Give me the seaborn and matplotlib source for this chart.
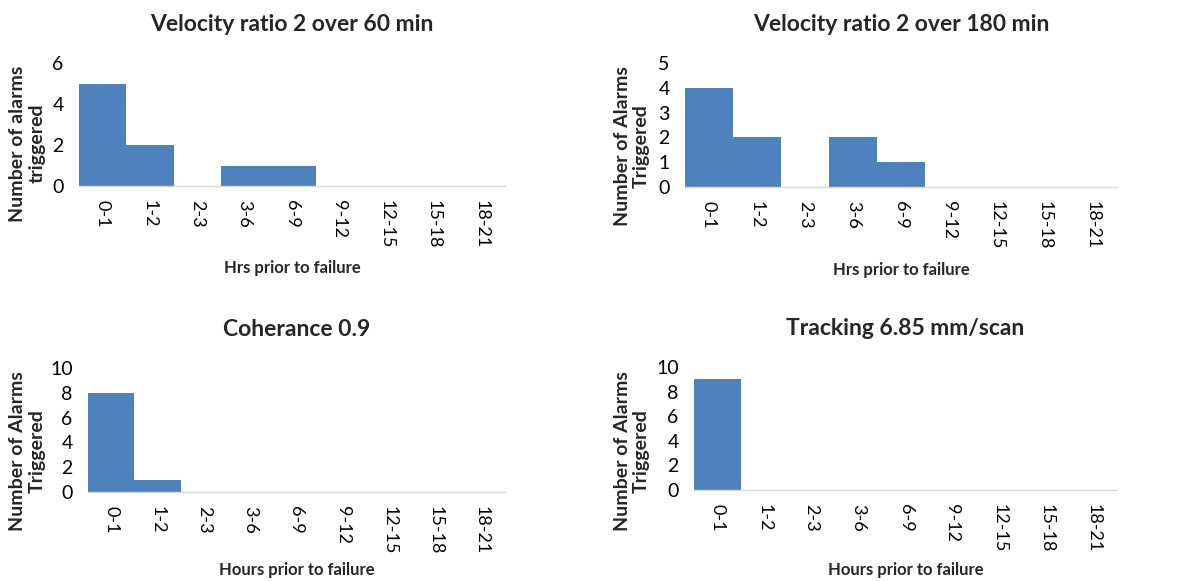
import matplotlib
matplotlib.use("Agg")
import matplotlib.pyplot as plt
import seaborn as sns
import pandas as pd

# Time bins (hours before failure) shared by all four panels
bins = ["0-1", "1-2", "2-3", "3-6", "6-9", "9-12", "12-15", "15-18", "18-21"]

# Alarm counts per bin
velocity_60 = [5, 2, 0, 1, 1, 0, 0, 0, 0]
velocity_180 = [4, 2, 0, 2, 1, 0, 0, 0, 0]
coherance = [8, 1, 0, 0, 0, 0, 0, 0, 0]
tracking = [9, 0, 0, 0, 0, 0, 0, 0, 0]

sns.set_theme(style="white")
plt.rcParams["font.family"] = ["Lato", "DejaVu Sans"]

BAR = "#4F81BD"
BASE = "#D9D9D9"

W, H = 1178, 581
fig = plt.figure(figsize=(W / 100, H / 100), dpi=100)


def px_axes(left, top, right, bottom):
    return fig.add_axes([left / W, 1 - bottom / H, (right - left) / W, (bottom - top) / H])


panels = [
    dict(box=(79, 63, 505, 186), vals=velocity_60, ymax=6, step=2,
         title="Velocity ratio 2 over 60 min",
         ylabel="Number of alarms\ntriggered", xlabel="Hrs prior to failure",
         ylab=(-0.122, 0.345), xlab=-0.667),
    dict(box=(685, 63, 1117, 187), vals=velocity_180, ymax=5, step=1,
         title="Velocity ratio 2 over 180 min",
         ylabel="Number of Alarms\nTriggered", xlabel="Hrs prior to failure",
         ylab=(-0.123, 0.33), xlab=-0.67),
    dict(box=(88, 368, 505, 492), vals=coherance, ymax=10, step=2,
         title="Coherance 0.9",
         ylabel="Number of Alarms\nTriggered", xlabel="Hours prior to failure",
         ylab=(-0.146, 0.33), xlab=-0.63),
    dict(box=(694, 367, 1117, 490), vals=tracking, ymax=10, step=2,
         title="Tracking 6.85 mm/scan",
         ylabel="Number of Alarms\nTriggered", xlabel="Hours prior to failure",
         ylab=(-0.147, 0.317), xlab=-0.65),
]

for p in panels:
    ax = px_axes(*p["box"])
    df = pd.DataFrame({"bin": bins, "count": p["vals"]})
    sns.barplot(data=df, x="bin", y="count", color=BAR, saturation=1,
                width=1.0, linewidth=0, ax=ax)
    ax.set_ylim(0, p["ymax"])
    ax.set_xlim(-0.5, len(bins) - 0.5)
    ax.set_yticks(range(0, p["ymax"] + 1, p["step"]))
    for s in ("left", "top", "right"):
        ax.spines[s].set_visible(False)
    ax.spines["bottom"].set_color(BASE)
    ax.spines["bottom"].set_linewidth(1.0)
    ax.tick_params(axis="both", length=0, colors="black")
    ax.tick_params(axis="y", labelsize=14, pad=11)
    ax.tick_params(axis="x", labelsize=13, pad=10)
    for lab in ax.get_xticklabels():
        lab.set_rotation(270)
    ax.set_title(p["title"], fontsize=16.5, fontweight="bold", y=1.31,
                 va="center", pad=0)
    ax.set_ylabel(p["ylabel"], fontsize=14, fontweight="bold",
                  ha="center", va="center", linespacing=1.17)
    ax.yaxis.set_label_coords(*p["ylab"])
    ax.set_xlabel(p["xlabel"], fontsize=12, fontweight="bold", va="center")
    ax.xaxis.set_label_coords(0.5, p["xlab"])

fig.savefig("out.png", dpi=100, facecolor="white")
